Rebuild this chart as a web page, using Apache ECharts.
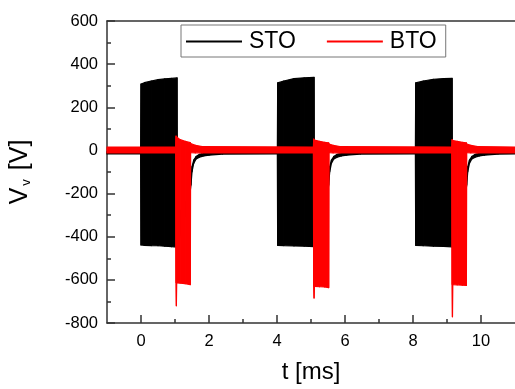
<!DOCTYPE html>
<html>
<head>
<meta charset="utf-8">
<script src="https://cdn.jsdelivr.net/npm/echarts@6/dist/echarts.min.js"></script>
<style>
  html, body { margin: 0; padding: 0; background: #fff; }
  #chart { width: 515px; height: 389px; }
</style>
</head>
<body>
<div id="chart"></div>
<script>
// STO trace: time (ms) with the upper and lower envelope of the signal (V)
const stoTime  = [-1.00, -0.01, 0.00, 0.10, 0.30, 0.50, 0.70, 0.90, 1.06, 1.07, 1.30, 1.44, 1.47, 1.50, 1.55, 1.62, 1.72, 1.85, 2.00, 2.40,
                  4.01, 4.02, 4.20, 4.50, 4.80, 5.09, 5.10, 5.35, 5.49, 5.52, 5.55, 5.60, 5.67, 5.77, 5.90, 6.05, 6.45,
                  8.07, 8.08, 8.30, 8.60, 8.90, 9.15, 9.16, 9.40, 9.55, 9.58, 9.61, 9.66, 9.73, 9.83, 9.96, 10.10, 10.50, 11.00];
const stoUpper = [-6, -6, 308, 314, 322, 328, 332, 334, 336, -300, -250, -180, -130, -75, -45, -28, -18, -12, -9, -6,
                  -6, 313, 322, 333, 337, 339, -300, -250, -180, -130, -75, -45, -28, -18, -12, -9, -6,
                  -6, 313, 322, 330, 333, 334, -300, -250, -180, -130, -75, -45, -28, -18, -12, -9, -6, -6];
const stoLower = [-16, -16, -438, -440, -441, -442, -444, -446, -448, -440, -300, -200, -160, -100, -60, -40, -31, -25, -22, -17,
                  -16, -440, -441, -443, -444, -446, -440, -300, -200, -160, -100, -60, -40, -31, -25, -22, -17,
                  -16, -440, -442, -444, -445, -447, -440, -300, -200, -160, -100, -60, -40, -31, -25, -22, -17, -16];

// BTO trace: time (ms) with the upper and lower envelope of the signal (V)
const btoTime  = [-1.00, 1.02, 1.03, 1.04, 1.05, 1.15, 1.30, 1.45, 1.46, 1.60, 1.80,
                  5.07, 5.08, 5.09, 5.10, 5.25, 5.40, 5.52, 5.53, 5.65, 5.85,
                  9.14, 9.15, 9.16, 9.17, 9.30, 9.45, 9.57, 9.58, 9.70, 9.90, 11.00];
const btoUpper = [16, 16, 67, 64, 62, 50, 42, 36, 32, 24, 18,
                  16, 52, 50, 48, 42, 38, 35, 30, 24, 18,
                  16, 50, 48, 46, 42, 38, 35, 30, 24, 18, 16];
const btoLower = [-12, -12, -612, -720, -614, -615, -618, -622, -10, -11, -12,
                  -12, -628, -684, -630, -632, -633, -636, -10, -11, -12,
                  -12, -620, -771, -622, -623, -625, -626, -10, -11, -12, -12];

// Axis ticks
const xMajorTicks = [0, 2, 4, 6, 8, 10];
const xMinorTicks = [1, 3, 5, 7, 9];

const FONT = 'Liberation Sans, Arial, sans-serif';
const AXIS_COLOR = '#333';
const STO_COLOR = '#000';
const BTO_COLOR = '#ff0000';

// Draws the envelope as a filled band, one quad between neighbouring samples
function bandRenderer(time, upper, lower, color) {
  return function (params, api) {
    const i = params.dataIndex;
    if (i >= time.length - 1) return null;
    const pts = [
      api.coord([time[i], upper[i]]),
      api.coord([time[i + 1], upper[i + 1]]),
      api.coord([time[i + 1], lower[i + 1]]),
      api.coord([time[i], lower[i]])
    ];
    return {
      type: 'polygon',
      shape: { points: pts },
      style: { fill: color, stroke: color, lineWidth: 1.2, lineJoin: 'round' }
    };
  };
}

function bandData(time, upper, lower) {
  return time.map((t, i) => [t, upper[i], lower[i]]);
}

const chart = echarts.init(document.getElementById('chart'), null, { renderer: 'canvas' });

const lineStyle = { color: AXIS_COLOR, width: 1.5 };

chart.setOption({
  backgroundColor: '#fff',
  animation: false,
  textStyle: { fontFamily: FONT, color: '#000' },
  grid: { left: 106, top: 21, right: -4.4, bottom: 66, containLabel: false },
  legend: {
    left: 181, top: 25,
    padding: [5, 9, 4, 5],
    borderColor: '#777', borderWidth: 1,
    itemWidth: 56, itemHeight: 2, itemGap: 31,
    icon: 'rect',
    textStyle: { fontSize: 23, fontFamily: FONT, color: '#000', padding: [0, 0, 0, 2] },
    data: [
      { name: 'STO', itemStyle: { color: STO_COLOR } },
      { name: 'BTO', itemStyle: { color: BTO_COLOR } }
    ]
  },
  xAxis: [
    {
      type: 'value', min: -1, max: 11, position: 'bottom',
      axisLine: { show: true, onZero: false, lineStyle },
      axisTick: { show: true, inside: true, length: 8, customValues: xMajorTicks, lineStyle },
      axisLabel: { customValues: xMajorTicks, margin: 10, fontSize: 16.5, color: '#000', fontFamily: FONT },
      splitLine: { show: false },
      name: 't [ms]', nameLocation: 'middle', nameGap: 37,
      nameTextStyle: { fontSize: 24, color: '#000', fontFamily: FONT }
    },
    {
      type: 'value', min: -1, max: 11, position: 'bottom', gridIndex: 0,
      axisLine: { show: false, onZero: false },
      axisTick: { show: true, inside: true, length: 4, customValues: xMinorTicks, lineStyle },
      axisLabel: { show: false },
      splitLine: { show: false }
    },
    {
      type: 'value', min: -1, max: 11, position: 'top', gridIndex: 0,
      axisLine: { show: true, onZero: false, lineStyle },
      axisTick: { show: false },
      axisLabel: { show: false },
      splitLine: { show: false }
    }
  ],
  yAxis: {
    type: 'value', min: -800, max: 600, interval: 200,
    axisLine: { show: true, onZero: false, lineStyle },
    axisTick: { show: true, inside: true, length: 8, lineStyle },
    minorTick: { show: true, splitNumber: 2, length: 4, lineStyle },
    axisLabel: { margin: 9, fontSize: 16.5, color: '#000', fontFamily: FONT },
    splitLine: { show: false },
    name: '{m|V}{s|v}{m| [V]}',
    nameLocation: 'middle', nameGap: 74,
    nameTextStyle: {
      color: '#000', fontFamily: FONT,
      rich: {
        m: { fontSize: 25, fontFamily: FONT, color: '#000' },
        s: { fontSize: 13, fontFamily: FONT, color: '#000', padding: [11, 2, 0, 2] }
      }
    }
  },
  series: [
    {
      name: 'STO', type: 'custom', xAxisIndex: 0, yAxisIndex: 0,
      clip: true, z: 2,
      itemStyle: { color: STO_COLOR },
      renderItem: bandRenderer(stoTime, stoUpper, stoLower, STO_COLOR),
      encode: { x: 0, y: [1, 2] },
      data: bandData(stoTime, stoUpper, stoLower)
    },
    {
      name: 'BTO', type: 'custom', xAxisIndex: 0, yAxisIndex: 0,
      clip: true, z: 3,
      itemStyle: { color: BTO_COLOR },
      renderItem: bandRenderer(btoTime, btoUpper, btoLower, BTO_COLOR),
      encode: { x: 0, y: [1, 2] },
      data: bandData(btoTime, btoUpper, btoLower)
    }
  ]
});
</script>
</body>
</html>
